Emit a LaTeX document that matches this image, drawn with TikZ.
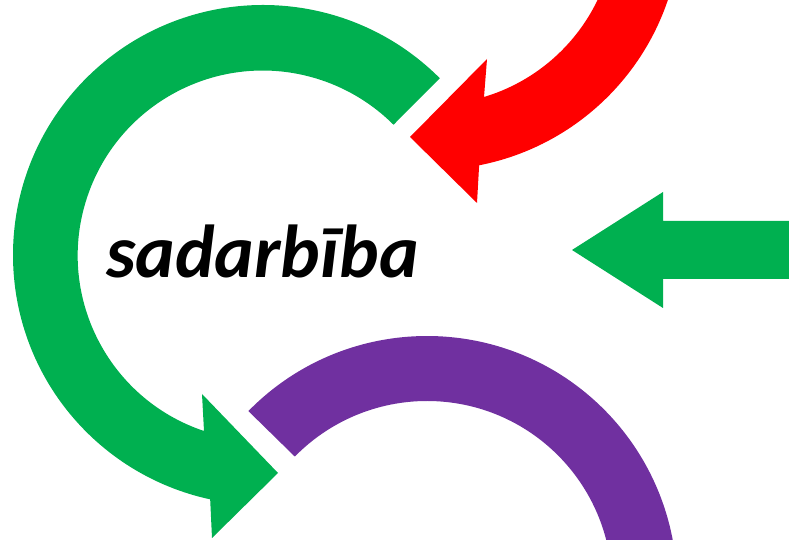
\documentclass[tikz,border=0pt]{standalone}
\usepackage{fontspec}
\setmainfont{Carlito}
\definecolor{arcgreen}{HTML}{00B050}
\definecolor{arcred}{HTML}{FF0000}
\definecolor{arcpurple}{HTML}{7030A0}
\tikzset{
  bend green/.style={fill=arcgreen},
  bend red/.style={fill=arcred},
  bend purple/.style={fill=arcpurple},
  word/.style={anchor=base, font=\fontsize{75}{84}\selectfont\bfseries\itshape}
}

\begin{document}
\begin{tikzpicture}[x=1pt,y=1pt]
  \coordinate (G) at (263,285);
  \coordinate (R) at (431,620);
  \coordinate (P) at (427,-46);
  \useasboundingbox (0,0) rectangle (789,540);
  \clip (0,0) rectangle (789,540);
% big green circular arrow
\fill[bend green] ([shift={(45:250)}]G) arc[start angle=45,end angle=257.8,radius=250]
  -- (212,2) -- (278,67) -- (202,146) -- (204,109)
  arc[start angle=251.5,end angle=45,radius=185] -- cycle;
% red arrow from top right
\fill[bend red] ([shift={(-10:250)}]R) arc[start angle=-10,end angle=-78.9,radius=250]
  -- (477,337) -- (410,403) -- (487,481) -- (484,443)
  arc[start angle=-73.3,end angle=-10,radius=185] -- cycle;
% purple arc at the bottom
\fill[bend purple] ([shift={(135.6:250)}]P) arc[start angle=135.6,end angle=0,radius=250]
  -- ([shift={(0:185)}]P) arc[start angle=0,end angle=135.6,radius=185] -- cycle;
% straight green arrow
\fill[bend green] (800,319) -- (663,319) -- (663,348) -- (572,290)
  -- (663,232) -- (663,261) -- (800,261) -- cycle;
\node[word] (label) at (262.5,262) {sadarbība};
\end{tikzpicture}
\end{document}
